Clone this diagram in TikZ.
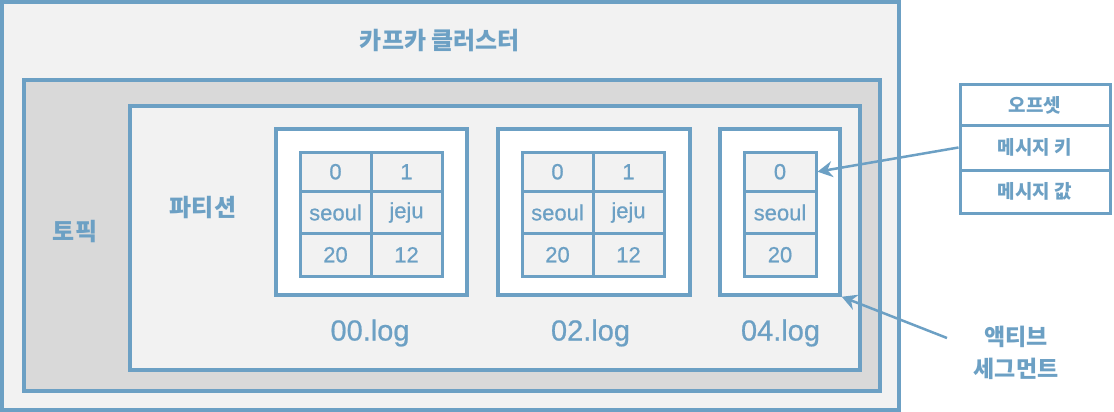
\documentclass[tikz,border=0pt]{standalone}
\usepackage{fontspec}
\setmainfont{Noto Sans CJK KR}
\newfontfamily\latinfont{Liberation Sans}[FakeBold=0.7]
\usepackage{tikz}
\usetikzlibrary{arrows.meta, positioning}
\definecolor{lineblue}{HTML}{6CA0C4}
\definecolor{lightgrey}{HTML}{F2F2F2}
\definecolor{midgrey}{HTML}{D9D9D9}
\tikzstyle{box} = [rectangle, draw=lineblue, line width=3.5pt, inner sep=0pt, text=lineblue]
\tikzstyle{cluster} = [box, fill=lightgrey, minimum width=897pt, minimum height=408pt]
\tikzstyle{topic} = [box, fill=midgrey, minimum width=856pt, minimum height=311pt]
\tikzstyle{partition} = [box, fill=lightgrey, minimum width=730pt, minimum height=264pt]
\tikzstyle{segment} = [box, fill=white, minimum height=166pt]
\tikzstyle{cell} = [box, fill=lightgrey, line width=3pt, font=\latinfont\fontsize{22}{24}\selectfont]
\tikzstyle{rowa} = [cell, minimum height=39.5pt]
\tikzstyle{rowb} = [cell, minimum height=42pt]
\tikzstyle{rowc} = [cell, minimum height=42.5pt]
\tikzstyle{field} = [box, fill=white, minimum width=150pt, line width=3pt, font=\fontsize{19}{22}\selectfont\bfseries]
\tikzstyle{label} = [text=lineblue, font=\fontsize{24}{32}\selectfont\bfseries, align=center]
\tikzstyle{logname} = [text=lineblue, font=\latinfont\fontsize{29}{30}\selectfont]
\tikzstyle{arrow} = [draw=lineblue, line width=2.5pt, -{Stealth[length=15pt, width=16pt, inset=5pt]}]

\begin{document}
\begin{tikzpicture}[x=1pt, y=-1pt]
\useasboundingbox (0,0) rectangle (1114,412);

\node (cluster) [cluster] at (450.5,206) {};
\node (topic) [topic] at (452,235.5) {};
\node (partition) [partition] at (495,238) {};

\node (clustername) [label] at (440,41) {카프카 클러스터};
\node (topicname) [label] at (75,232) {토픽};
\node (partitionname) [label] at (203,208) {파티션};

\node (seg1) [segment, minimum width=191pt] at (371.5,212) {};
\node (seg2) [segment, minimum width=192pt] at (594,212) {};
\node (seg3) [segment, minimum width=120pt] at (780,212) {};

\node (a0) [rowa, minimum width=71pt] at (335.5,171.75) {0};
\node (a1) [rowa, minimum width=71pt] at (406.5,171.75) {1};
\node (ak0) [rowb, minimum width=71pt] at (335.5,212.5) {seoul};
\node (ak1) [rowb, minimum width=71pt] at (406.5,212.5) {jeju};
\node (av0) [rowc, minimum width=71pt] at (335.5,254.75) {20};
\node (av1) [rowc, minimum width=71pt] at (406.5,254.75) {12};

\node (b0) [rowa, minimum width=71pt] at (557.5,171.75) {0};
\node (b1) [rowa, minimum width=71pt] at (628.5,171.75) {1};
\node (bk0) [rowb, minimum width=71pt] at (557.5,212.5) {seoul};
\node (bk1) [rowb, minimum width=71pt] at (628.5,212.5) {jeju};
\node (bv0) [rowc, minimum width=71pt] at (557.5,254.75) {20};
\node (bv1) [rowc, minimum width=71pt] at (628.5,254.75) {12};

\node (c0) [rowa, minimum width=72pt] at (780,171.75) {0};
\node (ck0) [rowb, minimum width=72pt] at (780,212.5) {seoul};
\node (cv0) [rowc, minimum width=72pt] at (780,254.75) {20};

\node (log1) [logname] at (370,333) {00.log};
\node (log2) [logname] at (590.5,333) {02.log};
\node (log3) [logname] at (780.5,333) {04.log};

\node (offset) [field, minimum height=40pt] at (1035,105) {오프셋};
\node (key) [field, minimum height=45pt] at (1035,147.5) {메시지 키};
\node (value) [field, minimum height=43pt] at (1035,191.5) {메시지 값};

\node (active) [label, font=\fontsize{23}{32}\selectfont\bfseries] at (1016,353) {액티브\\세그먼트};
\coordinate (activetail) at (947,338);

\draw [arrow] (key.west) -- (c0.east);
\draw [arrow] (activetail) -- (seg3.south east);

\end{tikzpicture}
\end{document}
